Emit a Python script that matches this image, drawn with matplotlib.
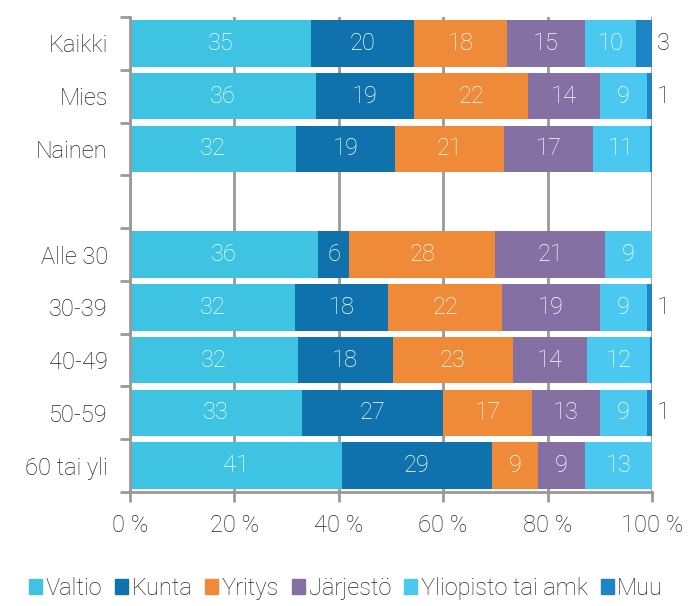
import numpy as np
import matplotlib
matplotlib.use("Agg")
import matplotlib.pyplot as plt
from matplotlib.patches import Patch

plt.rcParams['font.family'] = ['Roboto', 'DejaVu Sans']
plt.rcParams['font.weight'] = 'light'

categories = ["Kaikki", "Mies", "Nainen", "", "Alle 30", "30-39", "40-49", "50-59", "60 tai yli"]
series = ["Valtio", "Kunta", "Yritys", "Järjestö", "Yliopisto tai amk", "Muu"]
valtio = [35, 36, 32, 0, 36, 32, 32, 33, 41]
kunta = [20, 19, 19, 0, 6, 18, 18, 27, 29]
yritys = [18, 22, 21, 0, 28, 22, 23, 17, 9]
jarjesto = [15, 14, 17, 0, 21, 19, 14, 13, 9]
yliopisto = [10, 9, 11, 0, 9, 9, 12, 9, 13]
muu = [3, 1, 0.4, 0, 0, 1, 0.4, 1, 0]
colors = ["#3ec3e3", "#0f72ad", "#ee8a38", "#8570a4", "#4bc8f0", "#1e84c6"]

data = np.array([valtio, kunta, yritys, jarjesto, yliopisto, muu], dtype=float)
totals = data.sum(axis=0)
totals[totals == 0] = 1
share = data / totals * 100

fig = plt.figure(figsize=(6.92, 6.06), dpi=100)
ax = fig.add_axes([0.188, 0.188, 0.754, 0.784])

fs = 17
y = np.arange(len(categories))
left = np.zeros(len(categories))
for k in range(len(series)):
    ax.barh(y, share[k], left=left, height=0.88, color=colors[k], zorder=2)
    for i in range(len(categories)):
        if data[k, i] >= 1 and k < 5:
            ax.text(left[i] + share[k, i] / 2, y[i], f"{data[k, i]:.0f}", ha="center", va="center",
                    color="white", fontsize=fs, zorder=3)
    left += share[k]

for i in range(len(categories)):
    if muu[i] >= 1:
        ax.text(101.0, y[i], f"{muu[i]:.0f}", ha="left", va="center", color="#222222",
                fontsize=fs, clip_on=False)

ax.set_xlim(0, 100)
ax.set_ylim(len(categories) - 0.5, -0.5)
ax.set_xticks(np.arange(0, 101, 20))
ax.set_xticklabels([f"{v} %" for v in range(0, 101, 20)], fontsize=fs, color="#222222")
ax.set_yticks(y)
ax.set_yticklabels(categories, fontsize=fs, color="#222222")
ax.set_yticks(np.arange(-0.5, len(categories), 1), minor=True)
ax.tick_params(axis="y", which="major", length=0, pad=16)
ax.tick_params(axis="y", which="minor", length=7, width=2, color="#999999")
ax.tick_params(axis="x", length=7, width=2, color="#999999", pad=9)
ax.xaxis.grid(True, color="#999999", linewidth=2, zorder=0)
ax.set_axisbelow(True)
ax.spines["top"].set_visible(False)
ax.spines["right"].set_visible(False)
for s in ["left", "bottom"]:
    ax.spines[s].set_color("#999999")
    ax.spines[s].set_linewidth(2)

handles = [Patch(color=c, label=s) for c, s in zip(colors, series)]
fig.legend(handles=handles, loc="lower center", bbox_to_anchor=(0.5, -0.025), ncol=6, frameon=False,
           fontsize=fs, handlelength=0.55, handleheight=0.55, handletextpad=0.15, columnspacing=0.55,
           labelcolor="#222222")

fig.savefig("out.png", dpi=100)
